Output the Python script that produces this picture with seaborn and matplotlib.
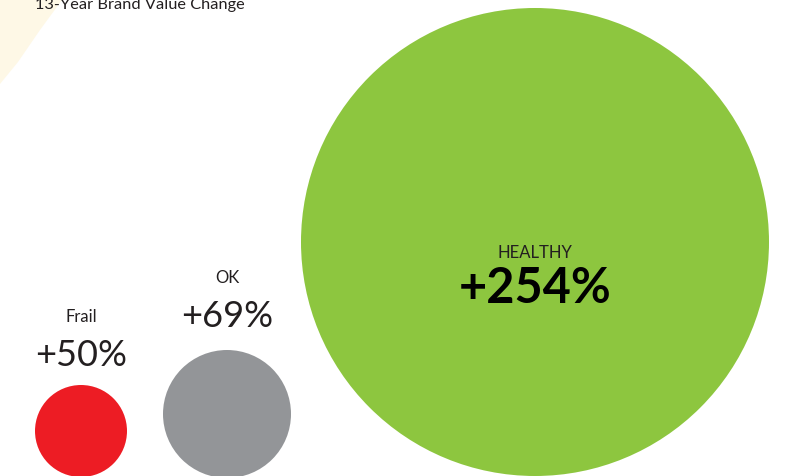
import matplotlib
matplotlib.use("Agg")
import matplotlib.pyplot as plt
import seaborn as sns
import pandas as pd
from matplotlib.patches import Polygon

# ---- data ----
categories = ["Frail", "OK", "HEALTHY"]
value_change = [50, 69, 254]
labels = ["+50%", "+69%", "+254%"]
title = "13-Year Brand Value Change"

# ---- layout / style (pixels) ----
W, H, DPI = 785, 476, 100
centers_x = [81, 227, 535]
centers_y = [431, 414, 242]
radius_px = [46, 64, 234]
colors = ["#ED1C24", "#939598", "#8DC63F"]

sns.set_theme(style="white")
plt.rcParams["font.family"] = ["Lato", "DejaVu Sans"]

fig = plt.figure(figsize=(W / DPI, H / DPI), dpi=DPI)
ax = fig.add_axes([0, 0, 1, 1])

# decorative background shape top-left
ax.add_patch(Polygon([(0, 0), (62, 0), (40, 30), (18, 62), (0, 84)],
                     closed=True, facecolor="#FEF8E6", edgecolor="none", zorder=0))

df = pd.DataFrame({
    "cat": categories,
    "x": centers_x,
    "y": centers_y,
    "s": [(2 * r * 72 / DPI) ** 2 for r in radius_px],
})
sns.scatterplot(data=df, x="x", y="y", hue="cat", palette=dict(zip(categories, colors)),
                s=df["s"].tolist(), linewidth=0, legend=False, ax=ax, zorder=2)
ax.set_xlim(0, W)
ax.set_ylim(H, 0)
ax.axis("off")

ax.text(35, 9, title, fontsize=11.8, color="#231F20", ha="left", va="baseline")

# Frail
ax.text(81, 322, categories[0], fontsize=12, color="#231F20", ha="center", va="baseline")
ax.text(81, 366, labels[0], fontsize=26, color="#231F20", ha="center", va="baseline")
# OK
ax.text(227, 283, categories[1], fontsize=12, color="#231F20", ha="center", va="baseline")
ax.text(227, 327, labels[1], fontsize=26, color="#231F20", ha="center", va="baseline")
# Healthy
ax.text(535, 258, categories[2], fontsize=12, color="#231F20", ha="center", va="baseline", zorder=3)
ax.text(535, 303, labels[2], fontsize=35, fontweight="bold", color="#000000",
        ha="center", va="baseline", zorder=3)

fig.savefig("out.png", dpi=DPI)
